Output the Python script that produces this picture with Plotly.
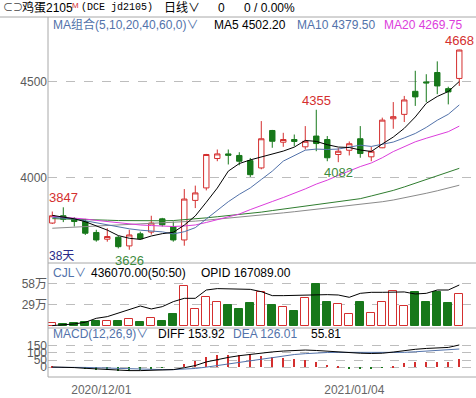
import numpy as np
import plotly.graph_objects as go

# ---------------- data ----------------
dates = ["2020/11/25", "2020/11/26", "2020/11/27", "2020/11/30", "2020/12/01",
         "2020/12/02", "2020/12/03", "2020/12/04", "2020/12/07", "2020/12/08",
         "2020/12/09", "2020/12/10", "2020/12/11", "2020/12/14", "2020/12/15",
         "2020/12/16", "2020/12/17", "2020/12/18", "2020/12/21", "2020/12/22",
         "2020/12/23", "2020/12/24", "2020/12/25", "2020/12/28", "2020/12/29",
         "2020/12/30", "2020/12/31", "2021/01/04", "2021/01/05", "2021/01/06",
         "2021/01/07", "2021/01/08", "2021/01/11", "2021/01/12", "2021/01/13",
         "2021/01/14", "2021/01/15", "2021/01/18"]
tick_dates = ["2020/12/01", "2021/01/04"]

opens = [3765, 3803, 3787, 3773, 3716, 3681, 3691, 3646, 3709, 3718,
         3787, 3747, 3677, 3883, 3948, 4101, 4125, 4117, 4090, 4052,
         4247, 4186, 4200, 4162, 4218, 4200, 4122, 4144, 4204, 4110,
         4157, 4308, 4331, 4451, 4500, 4549, 4465, 4518]
highs = [3825, 3847, 3795, 3787, 3730, 3738, 3698, 3730, 3720, 3803,
         3792, 3773, 3942, 3960, 4125, 4148, 4148, 4134, 4104, 4296,
         4250, 4235, 4226, 4270, 4355, 4218, 4156, 4190, 4270, 4162,
         4314, 4395, 4427, 4558, 4540, 4607, 4475, 4668]
lows = [3760, 3770, 3747, 3703, 3668, 3668, 3633, 3626, 3678, 3705,
        3747, 3668, 3647, 3843, 3935, 4087, 4070, 4066, 4005, 4045,
        4157, 4162, 4165, 4148, 4139, 4087, 4082, 4117, 4105, 4087,
        4155, 4256, 4291, 4375, 4395, 4436, 4383, 4479]
closes = [3803, 3785, 3773, 3712, 3677, 3695, 3642, 3703, 3683, 3765,
          3756, 3677, 3890, 3922, 4122, 4125, 4118, 4087, 4017, 4204,
          4191, 4200, 4190, 4191, 4179, 4105, 4139, 4178, 4127, 4139,
          4301, 4319, 4406, 4422, 4495, 4479, 4448, 4666]

# moving-average values before enough history is on screen
ma5_head = [3805, 3797, 3787, 3772]
ma10_head = [3795, 3792, 3786, 3777, 3766, 3755, 3744, 3735, 3728]
ma20_head = [3800, 3796, 3792, 3786, 3779, 3773, 3766, 3760, 3755, 3752,
             3750, 3747, 3750, 3755, 3768, 3782, 3797, 3812, 3835]
ma40 = [3788, 3787, 3786, 3784, 3782, 3780, 3778, 3777, 3776, 3776,
        3777, 3778, 3782, 3786, 3792, 3798, 3804, 3809, 3814, 3822,
        3830, 3838, 3846, 3854, 3862, 3868, 3875, 3883, 3892, 3906,
        3920, 3935, 3953, 3972, 3990, 4008, 4027, 4050]
ma60 = [3738, 3741, 3744, 3747, 3750, 3752, 3754, 3756, 3758, 3761,
        3764, 3767, 3771, 3775, 3780, 3785, 3790, 3795, 3800, 3806,
        3812, 3818, 3824, 3830, 3836, 3842, 3848, 3854, 3861, 3868,
        3876, 3885, 3896, 3908, 3920, 3933, 3947, 3962]
# legend readouts as printed on the chart
ma_names = ["MA5", "MA10", "MA20"]
ma_readout = [4502.20, 4379.50, 4269.75]

# volume (万手) and open-interest line (drawn on the volume scale)
volume_wan = [3.7, 2.8, 3.7, 5.5, 6.9, 6.4, 6.9, 9.2, 5.5, 10.6,
              6.9, 16.6, 54.8, 23.0, 39.6, 32.7, 29.0, 23.5, 31.3, 46.5,
              29.0, 25.8, 20.7, 38.2, 58.0, 33.1, 29.9, 16.1, 33.1, 17.5,
              32.7, 48.3, 27.6, 46.5, 33.1, 47.0, 31.8, 43.607]
opid_line = [0.5, 1.4, 2.8, 5.1, 10.6, 12.9, 17.5, 23.0, 27.6, 23.5,
             26.7, 33.6, 38.2, 38.2, 49.7, 51.6, 51.1, 51.1, 50.6, 47.4,
             41.9, 41.9, 42.3, 42.8, 43.3, 43.3, 42.8, 39.6, 45.1, 46.5,
             46.5, 46.5, 47.0, 44.2, 45.1, 49.7, 49.7, 56.6]
opid_last = 167089.00
vol_ticks = [29, 58]
vol_ticktext = ["29万", "58万"]

# MACD(12,26,9)
diff = [2, 2, -2, -7, -12, -16, -21, -23, -23, -21,
        -18, -16, -3, 12, 37, 54, 68, 80, 90, 100,
        106, 112, 117, 119, 116, 110, 105, 100, 97, 95,
        97, 105, 117, 124, 130, 134, 137, 153.92]
dea = [0, 1, 0, -1, -3, -6, -9, -11, -13, -15,
       -16, -16, -13, -8, 1, 12, 24, 36, 48, 60,
       71, 80, 88, 94, 99, 102, 103, 103, 102, 100,
       99, 100, 103, 107, 112, 116, 119, 126.01]
macd_last = 55.81
macd_ticks = [0, 50, 100, 150]

price_ticks = [4000, 4500]
# marked extremes: (index, "high"/"low")
marks = [(1, "high"), (24, "high"), (37, "high"), (7, "low"), (26, "low")]

# ---------------- derived series ----------------
def rolling(vals, n, head):
    out = list(head)
    for i in range(len(head), len(vals)):
        out.append(float(np.mean(vals[i - n + 1:i + 1])))
    return out

ma5 = rolling(closes, 5, ma5_head)
ma10 = rolling(closes, 10, ma10_head)
ma20 = rolling(closes, 20, ma20_head)
hist = (2 * (np.array(diff) - np.array(dea))).tolist()

idx = list(range(len(dates)))
up = [c >= o for o, c in zip(opens, closes)]

# ---------------- styling ----------------
W, H = 476, 398
RED = "#d42f2f"
GREEN = "#17781a"
LBLGREEN = "#3d8b3d"
BLUE = "#5272aa"
MAG = "#dc3ddc"
MA40C = "#2f7d2f"
MA60C = "#8a8a8a"
GRID = "#bdbdbd"
BORDER = "#a8a8a8"
FONT = "Liberation Sans, Noto Sans CJK SC, sans-serif"


def px(x):
    return x / W


def py(y):
    return 1 - y / H


fig = go.Figure()

fig.add_trace(go.Candlestick(
    x=idx, open=opens, high=highs, low=lows, close=closes,
    increasing=dict(line=dict(color=RED, width=1), fillcolor="white"),
    decreasing=dict(line=dict(color=GREEN, width=1), fillcolor=GREEN),
    whiskerwidth=0, xaxis="x", yaxis="y", showlegend=False, hoverinfo="skip"))

for vals, col in [(ma60, MA60C), (ma40, MA40C), (ma20, MAG), (ma10, BLUE), (ma5, "#000000")]:
    fig.add_trace(go.Scatter(x=idx, y=vals, mode="lines", line=dict(color=col, width=1),
                             xaxis="x", yaxis="y", showlegend=False, hoverinfo="skip"))

# volume
vx_up = [i for i in idx if up[i]]
vx_dn = [i for i in idx if not up[i]]
fig.add_trace(go.Bar(x=vx_up, y=[volume_wan[i] for i in vx_up], width=0.74,
                     marker=dict(color="white", line=dict(color=RED, width=1)),
                     xaxis="x", yaxis="y2", showlegend=False, hoverinfo="skip"))
fig.add_trace(go.Bar(x=vx_dn, y=[volume_wan[i] for i in vx_dn], width=0.74,
                     marker=dict(color=GREEN, line=dict(color=GREEN, width=1)),
                     xaxis="x", yaxis="y2", showlegend=False, hoverinfo="skip"))
fig.add_trace(go.Scatter(x=idx, y=opid_line, mode="lines", line=dict(color="#000000", width=1),
                         xaxis="x", yaxis="y2", showlegend=False, hoverinfo="skip"))

# MACD
hx_up = [i for i in idx if hist[i] >= 0]
hx_dn = [i for i in idx if hist[i] < 0]
fig.add_trace(go.Bar(x=hx_up, y=[hist[i] for i in hx_up], width=0.1,
                     marker=dict(color=RED, line=dict(width=0)),
                     xaxis="x", yaxis="y3", showlegend=False, hoverinfo="skip"))
fig.add_trace(go.Bar(x=hx_dn, y=[hist[i] for i in hx_dn], width=0.1,
                     marker=dict(color=GREEN, line=dict(width=0)),
                     xaxis="x", yaxis="y3", showlegend=False, hoverinfo="skip"))
fig.add_trace(go.Scatter(x=idx, y=dea, mode="lines", line=dict(color=BLUE, width=1),
                         xaxis="x", yaxis="y3", showlegend=False, hoverinfo="skip"))
fig.add_trace(go.Scatter(x=idx, y=diff, mode="lines", line=dict(color="#000000", width=1),
                         xaxis="x", yaxis="y3", showlegend=False, hoverinfo="skip"))

tickfont = dict(family=FONT, size=12, color="#5a5a5a")
yax_common = dict(showgrid=True, gridcolor=GRID, griddash="dash", gridwidth=1,
                  zeroline=False, showline=False, ticks="", tickfont=tickfont,
                  anchor="x", side="left", fixedrange=True, automargin=False)

fig.update_layout(
    width=W, height=H, margin=dict(l=0, r=0, t=0, b=0, autoexpand=False),
    paper_bgcolor="white", plot_bgcolor="white",
    barmode="overlay", bargap=0, showlegend=False,
    font=dict(family=FONT, size=12, color="#000"),
    xaxis=dict(domain=[px(48), 1], range=[-0.39, 38.52], anchor="y3",
               showgrid=False, zeroline=False, showline=False, ticks="",
               tickvals=[dates.index(d) for d in tick_dates], ticktext=tick_dates,
               ticklabelshift=5, ticklabelstandoff=4,
               tickfont=dict(family=FONT, size=12, color="#666"),
               rangeslider=dict(visible=False), fixedrange=True, automargin=False),
    yaxis=dict(domain=[py(263), py(17)], range=[3557, 4838],
               tickvals=price_ticks, ticktext=[str(t) for t in price_ticks], **yax_common),
    yaxis2=dict(domain=[py(328), py(263)], range=[-2.8, 87],
                tickvals=vol_ticks, ticktext=vol_ticktext, **yax_common),
    yaxis3=dict(domain=[py(377), py(328)], range=[-67, 271],
                tickvals=macd_ticks, ticktext=[str(t) for t in macd_ticks], **yax_common),
)

# panel frame lines
shapes = []
for (x0, y0, x1, y1) in [(0, 17, 476, 17), (48, 17, 48, 377), (48, 263, 476, 263),
                         (48, 328, 476, 328), (48, 377, 476, 377)]:
    shapes.append(dict(type="line", xref="paper", yref="paper",
                       x0=px(x0), y0=py(y0), x1=px(x1), y1=py(y1),
                       line=dict(color=BORDER, width=1)))
fig.update_layout(shapes=shapes)

ann = []


def txt(x, y, s, color="#000", size=12, fam=FONT, anchor="left"):
    ann.append(dict(x=px(x), y=py(y), xref="paper", yref="paper", text=s, showarrow=False,
                    xanchor=anchor, yanchor="middle",
                    font=dict(family=fam, size=size, color=color)))


# header row
txt(1, 8, "⊂⊃", "#444", 10)
txt(20, 8, "鸡蛋2105", "#000", 12)
txt(70, 5, "M", RED, 8)
txt(79, 8, "(DCE jd2105)", "#000", 10, "Liberation Mono, DejaVu Sans Mono, monospace")
txt(162, 8, "日线∨", "#000", 12)
txt(216, 8, "0", "#000", 12)
txt(242, 8, "0 / 0.00%", "#000", 12)
# MA legend row
txt(51, 25, "MA组合(5,10,20,40,60,0)∨", BLUE, 12)
for xpos, name, val, col in zip([212, 295, 382], ma_names, ma_readout, ["#000", BLUE, MAG]):
    txt(xpos, 25, f"{name} {val:.2f}", col, 12)
# volume row
txt(51, 273, "CJL∨", BLUE, 12)
txt(89, 273, f"{volume_wan[-1]*10000:.2f}(50:50)", "#000", 12)
txt(199, 273, f"OPID {opid_last:.2f}", "#000", 12)
# MACD row
txt(51, 334, "MACD(12,26,9)∨", BLUE, 12)
txt(156, 334, f"DIFF {diff[-1]:.2f}", "#000", 12)
txt(231, 334, f"DEA {dea[-1]:.2f}", BLUE, 12)
txt(309, 334, f"{macd_last:.2f}", "#000", 12)
# days count
txt(47, 256, f"{len(dates)}天", "#2a2a88", 12)

for i, kind in marks:
    if kind == "high":
        ann.append(dict(x=i, y=highs[i], xref="x", yref="y", text=str(highs[i]), showarrow=False,
                        xanchor="center", yanchor="bottom", yshift=0,
                        font=dict(family=FONT, size=13, color=RED)))
    else:
        ann.append(dict(x=i, y=lows[i], xref="x", yref="y", text=str(lows[i]), showarrow=False,
                        xanchor="center", yanchor="top", yshift=-1,
                        font=dict(family=FONT, size=13, color=LBLGREEN)))

fig.update_layout(annotations=ann)
fig.write_html("out.html", config={"displayModeBar": False},
               post_script="document.body.style.margin='0px';document.body.style.padding='0px';")
